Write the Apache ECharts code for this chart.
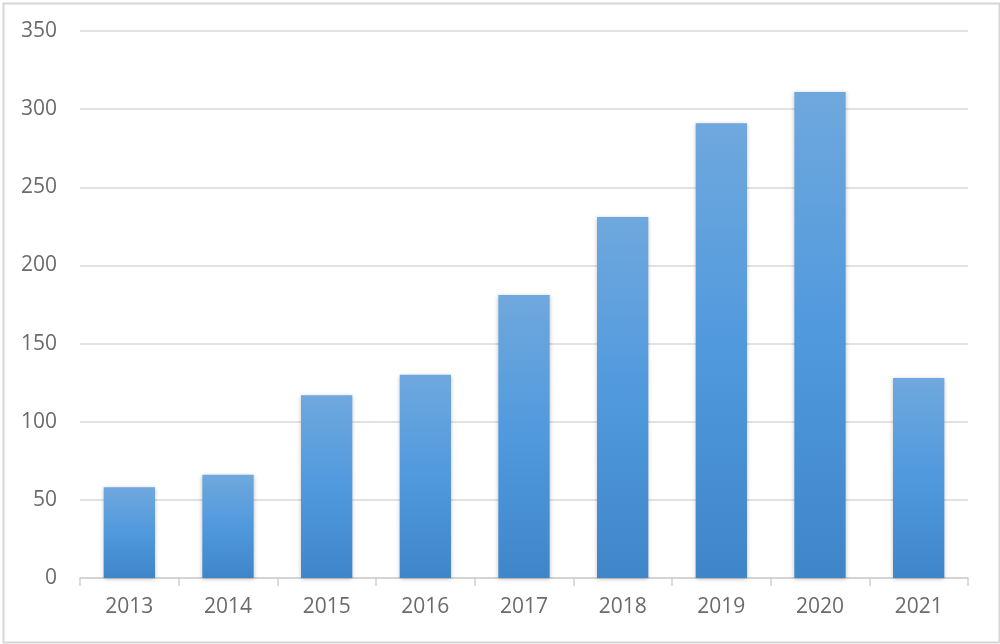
<!DOCTYPE html>
<html><head><meta charset="utf-8">
<script src="https://cdn.jsdelivr.net/npm/echarts@6/dist/echarts.min.js"></script>
<style>html,body{margin:0;padding:0;background:#fff}#c{width:1000px;height:644px}</style>
</head><body><div id="c"></div>
<script>
const categories = ['2013','2014','2015','2016','2017','2018','2019','2020','2021'];
const values = [58, 66, 117, 130, 181, 231, 291, 311, 128];
const yTicks = [0, 50, 100, 150, 200, 250, 300, 350];

const chart = echarts.init(document.getElementById('c'));
chart.setOption({
  animation: false,
  backgroundColor: '#fff',
  graphic: [{
    type: 'rect', left: 1, top: 1,
    shape: { width: 996, height: 639 },
    style: { fill: 'none', stroke: '#d6d6d6', lineWidth: 2 }
  }],
  grid: { left: 80, right: 32, top: 31, bottom: 66, containLabel: false },
  xAxis: {
    type: 'category', data: categories,
    axisLine: { lineStyle: { color: '#d0d0d0', width: 1.5 } },
    axisTick: { show: true, alignWithLabel: false, length: 8, lineStyle: { color: '#d0d0d0', width: 1.5 } },
    axisLabel: { color: '#6b6b6b', fontSize: 21, margin: 19, fontFamily: 'Open Sans, sans-serif' }
  },
  yAxis: {
    type: 'value', min: 0, max: 350, interval: 50,
    axisLine: { show: false }, axisTick: { show: false },
    splitLine: { lineStyle: { color: '#d9d9d9', width: 1.5 } },
    axisLabel: { color: '#6b6b6b', fontSize: 21, margin: 23, fontFamily: 'Open Sans, sans-serif',
      formatter: v => yTicks.includes(v) ? String(v) : '' }
  },
  series: [{
    type: 'bar', data: values, barWidth: '52%',
    itemStyle: {
      color: new echarts.graphic.LinearGradient(0, 0, 0, 1, [
        { offset: 0, color: '#6fa8dd' },
        { offset: 0.5, color: '#5099dd' },
        { offset: 1, color: '#3f86c9' }
      ]),
      shadowColor: 'rgba(0,0,0,0.25)', shadowBlur: 4, shadowOffsetX: 0, shadowOffsetY: 1
    }
  }]
});
</script></body></html>
